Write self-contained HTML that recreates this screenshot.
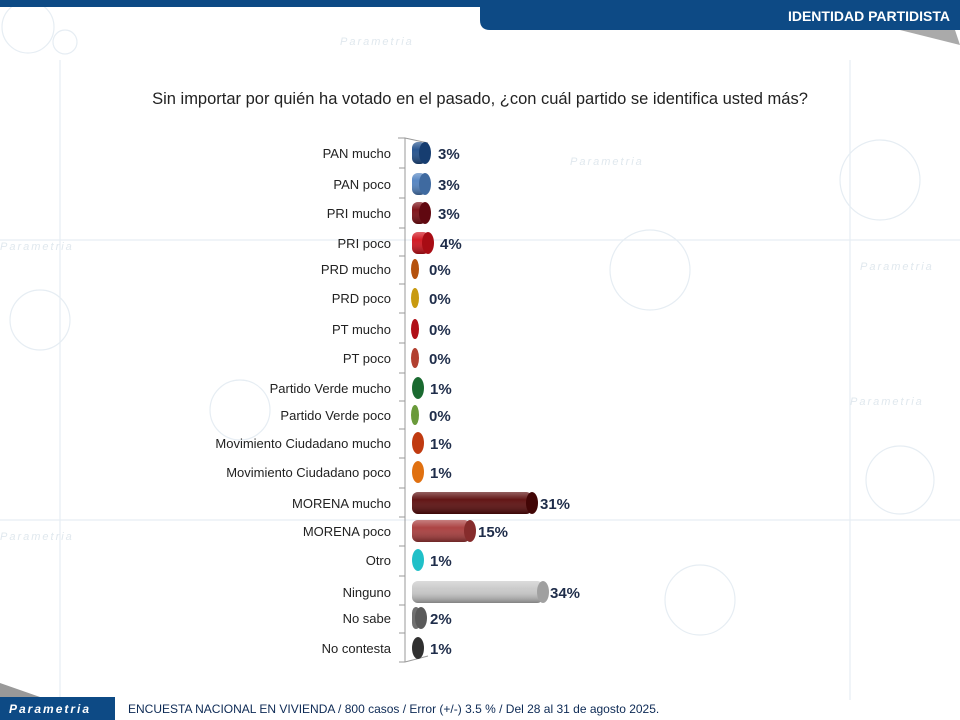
<!DOCTYPE html>
<html><head><meta charset="utf-8"><style>
body{margin:0;background:#fff;}
svg{display:block;font-family:"Liberation Sans",sans-serif;}
</style></head><body>
<svg width="960" height="720" xmlns="http://www.w3.org/2000/svg">
<defs>
<linearGradient id="g" x1="0" y1="0" x2="0" y2="1">
<stop offset="0" stop-color="#fff" stop-opacity="0.35"/>
<stop offset="0.35" stop-color="#fff" stop-opacity="0.05"/>
<stop offset="1" stop-color="#000" stop-opacity="0.35"/>
</linearGradient>
</defs>
<rect width="960" height="720" fill="#fff"/>
<g stroke="#e6edf3" fill="none" stroke-width="1.2">
<circle cx="28" cy="27" r="26"/><circle cx="65" cy="42" r="12"/>
<circle cx="40" cy="320" r="30"/><circle cx="880" cy="180" r="40"/><circle cx="900" cy="480" r="34"/>
<circle cx="650" cy="270" r="40"/><circle cx="240" cy="410" r="30"/><circle cx="700" cy="600" r="35"/>
<line x1="0" y1="240" x2="960" y2="240"/><line x1="0" y1="520" x2="960" y2="520"/>
<line x1="850" y1="60" x2="850" y2="700"/><line x1="60" y1="60" x2="60" y2="700"/>
</g>
<g fill="#e0e8ee" font-style="italic" font-size="11" letter-spacing="2">
<text x="0" y="250">Parametria</text><text x="850" y="405">Parametria</text>
<text x="860" y="270">Parametria</text><text x="0" y="540">Parametria</text>
<text x="340" y="45">Parametria</text><text x="570" y="165">Parametria</text>
</g>
<rect x="0" y="0" width="960" height="7" fill="#0d4a85"/>
<path d="M480 0H960V30H490Q480 30 480 20Z" fill="#0d4a85"/>
<path d="M900 30H955L960 45Z" fill="#aaa"/>
<text x="950" y="21" text-anchor="end" fill="#fff" font-weight="bold" font-size="14">IDENTIDAD PARTIDISTA</text>
<text x="480" y="104" text-anchor="middle" fill="#222" font-size="16.5">Sin importar por quién ha votado en el pasado, ¿con cuál partido se identifica usted más?</text>
<g stroke="#999" fill="none">
<path d="M405 662V138L428 143"/><path d="M405 662L428 656"/>
<line x1="398" y1="138" x2="405" y2="138"/>
<line x1="399" y1="168" x2="405" y2="168"/><line x1="399" y1="198" x2="405" y2="198"/>
<line x1="399" y1="228" x2="405" y2="228"/><line x1="399" y1="256" x2="405" y2="256"/>
<line x1="399" y1="284" x2="405" y2="284"/><line x1="399" y1="313" x2="405" y2="313"/>
<line x1="399" y1="343" x2="405" y2="343"/><line x1="399" y1="373" x2="405" y2="373"/>
<line x1="399" y1="401" x2="405" y2="401"/><line x1="399" y1="429" x2="405" y2="429"/>
<line x1="399" y1="458" x2="405" y2="458"/><line x1="399" y1="488" x2="405" y2="488"/>
<line x1="399" y1="517" x2="405" y2="517"/><line x1="399" y1="546" x2="405" y2="546"/>
<line x1="399" y1="576" x2="405" y2="576"/><line x1="399" y1="605" x2="405" y2="605"/>
<line x1="399" y1="633" x2="405" y2="633"/><line x1="399" y1="662" x2="405" y2="662"/>
</g>
<g font-size="13" fill="#222" text-anchor="end">
<text x="391" y="158">PAN mucho</text>
<text x="391" y="189">PAN poco</text>
<text x="391" y="218">PRI mucho</text>
<text x="391" y="248">PRI poco</text>
<text x="391" y="274">PRD mucho</text>
<text x="391" y="303">PRD poco</text>
<text x="391" y="334">PT mucho</text>
<text x="391" y="363">PT poco</text>
<text x="391" y="393">Partido Verde mucho</text>
<text x="391" y="420">Partido Verde poco</text>
<text x="391" y="448">Movimiento Ciudadano mucho</text>
<text x="391" y="477">Movimiento Ciudadano poco</text>
<text x="391" y="508">MORENA mucho</text>
<text x="391" y="536">MORENA poco</text>
<text x="391" y="565">Otro</text>
<text x="391" y="597">Ninguno</text>
<text x="391" y="623">No sabe</text>
<text x="391" y="653">No contesta</text>
</g>
<g>
<g transform="translate(0,153)"><rect x="412" y="-11" width="14" height="22" rx="6" fill="#1e4d8a"/><rect x="412" y="-11" width="14" height="22" rx="6" fill="url(#g)"/><ellipse cx="425" cy="0" rx="6" ry="11" fill="#163d70"/></g>
<g transform="translate(0,184)"><rect x="412" y="-11" width="14" height="22" rx="6" fill="#4f81c0"/><rect x="412" y="-11" width="14" height="22" rx="6" fill="url(#g)"/><ellipse cx="425" cy="0" rx="6" ry="11" fill="#3f6aa0"/></g>
<g transform="translate(0,213)"><rect x="412" y="-11" width="14" height="22" rx="6" fill="#7a0a10"/><rect x="412" y="-11" width="14" height="22" rx="6" fill="url(#g)"/><ellipse cx="425" cy="0" rx="6" ry="11" fill="#600810"/></g>
<g transform="translate(0,243)"><rect x="412" y="-11" width="17" height="22" rx="6" fill="#d0101a"/><rect x="412" y="-11" width="17" height="22" rx="6" fill="url(#g)"/><ellipse cx="428" cy="0" rx="6" ry="11" fill="#a80c14"/></g>
<ellipse cx="415" cy="269" rx="4" ry="10" fill="#b5520e"/>
<ellipse cx="415" cy="298" rx="4" ry="10" fill="#c89a10"/>
<ellipse cx="415" cy="329" rx="4" ry="10" fill="#b01018"/>
<ellipse cx="415" cy="358" rx="4" ry="10" fill="#b24030"/>
<ellipse cx="418" cy="388" rx="6" ry="11" fill="#1a6a30"/>
<ellipse cx="415" cy="415" rx="4" ry="10" fill="#6a9a3a"/>
<ellipse cx="418" cy="443" rx="6" ry="11" fill="#c03a10"/>
<ellipse cx="418" cy="472" rx="6" ry="11" fill="#e07010"/>
<g transform="translate(0,503)"><rect x="412" y="-11" width="120" height="22" rx="6" fill="#5a0a0a"/><rect x="412" y="-11" width="120" height="22" rx="6" fill="url(#g)"/><ellipse cx="532" cy="0" rx="6" ry="11" fill="#420606"/></g>
<g transform="translate(0,531)"><rect x="412" y="-11" width="58" height="22" rx="6" fill="#a83a3a"/><rect x="412" y="-11" width="58" height="22" rx="6" fill="url(#g)"/><ellipse cx="470" cy="0" rx="6" ry="11" fill="#862c2c"/></g>
<ellipse cx="418" cy="560" rx="6" ry="11" fill="#20c0c8"/>
<g transform="translate(0,592)"><rect x="412" y="-11" width="131" height="22" rx="6" fill="#c8c8c8"/><rect x="412" y="-11" width="131" height="22" rx="6" fill="url(#g)"/><ellipse cx="543" cy="0" rx="6" ry="11" fill="#a0a0a0"/></g>
<g transform="translate(0,618)"><rect x="412" y="-11" width="8" height="22" rx="6" fill="#707070"/><ellipse cx="421" cy="0" rx="6" ry="11" fill="#5a5a5a"/></g>
<ellipse cx="418" cy="648" rx="6" ry="11" fill="#303030"/>
</g>
<g font-weight="bold" font-size="15" fill="#1f2d4a">
<text x="438" y="159">3%</text>
<text x="438" y="190">3%</text>
<text x="438" y="219">3%</text>
<text x="440" y="249">4%</text>
<text x="429" y="275">0%</text>
<text x="429" y="304">0%</text>
<text x="429" y="335">0%</text>
<text x="429" y="364">0%</text>
<text x="430" y="394">1%</text>
<text x="429" y="421">0%</text>
<text x="430" y="449">1%</text>
<text x="430" y="478">1%</text>
<text x="540" y="509">31%</text>
<text x="478" y="537">15%</text>
<text x="430" y="566">1%</text>
<text x="550" y="598">34%</text>
<text x="430" y="624">2%</text>
<text x="430" y="654">1%</text>
</g>
<rect x="0" y="697" width="115" height="23" fill="#0d4a85"/>
<path d="M0 683L40 697H0Z" fill="#999"/>
<text x="9" y="713" fill="#fff" font-style="italic" font-weight="bold" font-size="12" letter-spacing="2">Parametria</text>
<text x="128" y="713" fill="#0d2a55" font-size="12">ENCUESTA NACIONAL EN VIVIENDA / 800 casos / Error (+/-) 3.5 % / Del 28 al 31 de agosto 2025.</text>
</svg>
</body></html>
